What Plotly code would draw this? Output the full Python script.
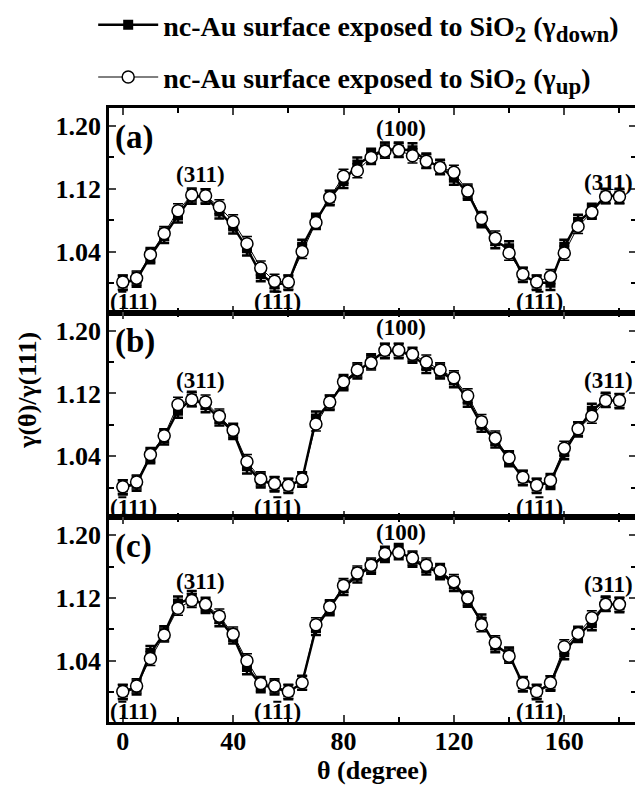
import plotly.graph_objects as go
from plotly.subplots import make_subplots

theta = list(range(0, 181, 5))

a_down = [1.000, 1.004, 1.034, 1.060, 1.086, 1.110, 1.110, 1.091, 1.072, 1.044, 1.011, 0.998, 1.000,
          1.046, 1.079, 1.108, 1.130, 1.151, 1.162, 1.170, 1.170, 1.169, 1.156, 1.148, 1.134, 1.115,
          1.080, 1.053, 1.044, 1.010, 1.000, 1.000, 1.046, 1.078, 1.092, 1.111, 1.111]
a_up = [1.001, 1.006, 1.036, 1.063, 1.092, 1.112, 1.111, 1.097, 1.078, 1.050, 1.019, 1.002, 1.001,
        1.040, 1.077, 1.109, 1.136, 1.143, 1.160, 1.168, 1.169, 1.162, 1.155, 1.147, 1.141, 1.117,
        1.082, 1.057, 1.038, 1.011, 1.001, 1.008, 1.038, 1.072, 1.090, 1.110, 1.110]

b_down = [1.000, 1.005, 1.040, 1.064, 1.098, 1.113, 1.105, 1.088, 1.071, 1.027, 1.009, 1.004, 1.002,
          1.010, 1.088, 1.108, 1.133, 1.148, 1.161, 1.174, 1.174, 1.168, 1.155, 1.148, 1.137, 1.112,
          1.080, 1.060, 1.036, 1.012, 1.002, 1.007, 1.045, 1.074, 1.098, 1.112, 1.110]
b_up = [1.001, 1.007, 1.042, 1.066, 1.106, 1.112, 1.109, 1.091, 1.073, 1.033, 1.011, 1.005, 1.003,
        1.011, 1.081, 1.109, 1.135, 1.150, 1.159, 1.175, 1.175, 1.170, 1.160, 1.150, 1.140, 1.117,
        1.084, 1.063, 1.038, 1.013, 1.003, 1.009, 1.050, 1.075, 1.091, 1.111, 1.111]

c_down = [1.000, 1.006, 1.050, 1.075, 1.113, 1.120, 1.110, 1.093, 1.071, 1.032, 1.009, 1.006, 1.000,
          1.012, 1.082, 1.107, 1.133, 1.149, 1.160, 1.175, 1.180, 1.169, 1.159, 1.153, 1.138, 1.118,
          1.090, 1.060, 1.048, 1.010, 1.000, 1.011, 1.051, 1.073, 1.088, 1.113, 1.111]
c_up = [1.001, 1.008, 1.043, 1.073, 1.107, 1.117, 1.112, 1.097, 1.074, 1.040, 1.011, 1.008, 1.001,
        1.012, 1.086, 1.109, 1.136, 1.152, 1.162, 1.177, 1.178, 1.171, 1.162, 1.155, 1.141, 1.120,
        1.086, 1.063, 1.046, 1.011, 1.001, 1.012, 1.058, 1.075, 1.095, 1.112, 1.112]

err_down = 0.009
err_up = 0.009

panel_labels = ["(a)", "(b)", "(c)"]
facet_texts = ["(111)", "(311)", "(111)", "(100)", "(111)", "(311)"]
# which digit carries the overbar (index within the three digits), None for none
facet_bar = [0, None, 1, None, 1, None]
facet_x = [4, 28, 56, 101, 151, 176]
facet_y = [
    [0.976, 1.138, 0.976, 1.197, 0.976, 1.128],
    [0.975, 1.136, 0.975, 1.204, 0.975, 1.136],
    [0.975, 1.141, 0.975, 1.204, 0.975, 1.137],
]

SUB = '<sub><span style="font-size:23px">{}</span></sub>'
name_down = "nc-Au surface exposed to SiO" + SUB.format("2") + " (\u03b3" + SUB.format("down") + ")"
name_up = "nc-Au surface exposed to SiO" + SUB.format("2") + " (\u03b3" + SUB.format("up") + ")"

FONT = "Liberation Serif"
LBL = 23  # label font size

fig = make_subplots(rows=3, cols=1, shared_xaxes=True, vertical_spacing=0)

series = [(a_down, a_up), (b_down, b_up), (c_down, c_up)]
for i, (dn, up) in enumerate(series, start=1):
    fig.add_trace(go.Scatter(
        x=theta, y=dn, mode="lines+markers", name=name_down,
        line=dict(color="black", width=2.5),
        marker=dict(symbol="square", size=10, color="black"),
        error_y=dict(type="constant", value=err_down, color="black", thickness=2.5, width=5),
        showlegend=(i == 1), legend="legend",
    ), row=i, col=1)
    fig.add_trace(go.Scatter(
        x=theta, y=up, mode="lines+markers", name=name_up,
        line=dict(color="black", width=1),
        marker=dict(symbol="circle", size=12, color="white", line=dict(color="black", width=1.5)),
        error_y=dict(type="constant", value=err_up, color="black", thickness=1.5, width=5),
        showlegend=(i == 1), legend="legend2",
    ), row=i, col=1)

fig.update_xaxes(
    range=[-5, 186], tick0=0, dtick=40, ticks="inside", ticklen=7, tickwidth=2,
    showline=True, linewidth=2.5, linecolor="black", mirror="allticks",
    minor=dict(dtick=20, ticks="inside", ticklen=5, tickwidth=2, tickcolor="black"),
    showgrid=False, zeroline=False, tickfont=dict(size=26), ticklabelstandoff=-6,
)
fig.update_yaxes(
    range=[0.962, 1.223], tick0=1.04, dtick=0.08, tickformat=".2f",
    ticks="inside", ticklen=7, tickwidth=2,
    showline=True, linewidth=2.5, linecolor="black", mirror="allticks",
    minor=dict(tick0=1.0, dtick=0.04, ticks="inside", ticklen=5, tickwidth=2, tickcolor="black"),
    showgrid=False, zeroline=False, tickfont=dict(size=26),
)

annotations = []
shapes = []
for i in range(3):
    xr = "x" if i == 0 else f"x{i+1}"
    yr = "y" if i == 0 else f"y{i+1}"
    annotations.append(dict(x=-3.5, y=1.186, xref=xr, yref=yr, text=panel_labels[i],
                            showarrow=False, xanchor="left", yanchor="middle",
                            font=dict(size=33, family=FONT, weight="bold", color="black")))
    for t, bar, fx, fy in zip(facet_texts, facet_bar, facet_x, facet_y[i]):
        annotations.append(dict(x=fx, y=fy, xref=xr, yref=yr, text=t, showarrow=False,
                                xanchor="center", yanchor="middle",
                                font=dict(size=LBL, family=FONT, weight="bold", color="black")))
        if bar is not None:
            # overbar above the chosen digit (digit advance = 0.5 em), drawn in pixels
            off = (bar - 1) * 0.5 * LBL
            shapes.append(dict(type="line", xref=xr, yref=yr,
                               xsizemode="pixel", ysizemode="pixel",
                               xanchor=fx, yanchor=fy,
                               x0=off - 4, x1=off + 4, y0=10, y1=10,
                               line=dict(color="black", width=2)))

annotations.append(dict(x=-0.155, y=0.54, xref="paper", yref="paper", text="\u03b3(\u03b8)/\u03b3(111)",
                        textangle=-90, showarrow=False, xanchor="center", yanchor="middle",
                        font=dict(size=26, family=FONT, weight="bold", color="black")))
annotations.append(dict(x=0.5, y=-0.079, xref="paper", yref="paper", text="\u03b8 (degree)",
                        showarrow=False, xanchor="center", yanchor="middle",
                        font=dict(size=26, family=FONT, weight="bold", color="black")))

fig.update_layout(
    width=639, height=787,
    margin=dict(l=109, r=0, t=105, b=65),
    paper_bgcolor="white", plot_bgcolor="white",
    font=dict(family=FONT, size=26, color="black", weight="bold"),
    annotations=annotations,
    shapes=shapes,
    legend=dict(x=-0.03, y=1.135, xanchor="left", yanchor="middle", itemwidth=60,
                bgcolor="rgba(0,0,0,0)", font=dict(size=28, family=FONT, weight="bold")),
    legend2=dict(x=-0.03, y=1.05, xanchor="left", yanchor="middle", itemwidth=60,
                 bgcolor="rgba(0,0,0,0)", font=dict(size=28, family=FONT, weight="bold")),
)

fig.write_html("out.html", config={"displayModeBar": False},
               post_script="document.body.style.margin='0';document.body.style.overflow='hidden';")
